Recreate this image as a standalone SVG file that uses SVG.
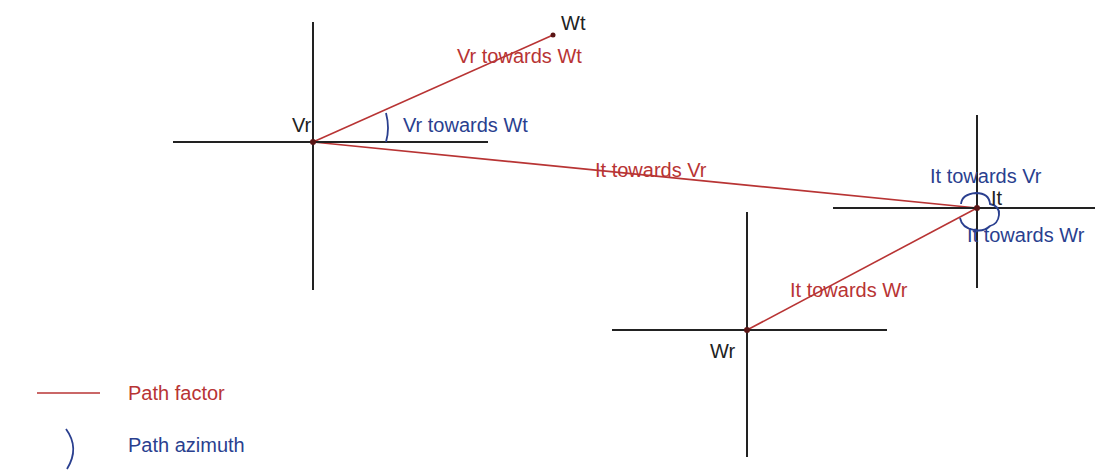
<svg xmlns="http://www.w3.org/2000/svg" width="1096" height="471" viewBox="0 0 1096 471">
<style>
.axis{stroke:#222;stroke-width:2;fill:none}
.path{stroke:#b83434;stroke-width:1.6;fill:none}
.az{stroke:#2a3f8f;stroke-width:1.8;fill:none}
.dot{fill:#5a1515}
text{font-family:"Liberation Sans",Arial,sans-serif;font-size:20px}
.k{fill:#222}
.r{fill:#b83434}
.b{fill:#2a3f8f}
</style>
<rect width="1096" height="471" fill="#fff"/>
<g id="connectors">
<line class="path" x1="313" y1="142" x2="553" y2="35"/>
<line class="path" x1="313" y1="142" x2="977" y2="208"/>
<line class="path" x1="747" y1="330" x2="977" y2="208"/>
</g>
<g id="node-Vr">
<line class="axis" x1="173" y1="142" x2="488" y2="142"/>
<line class="axis" x1="313" y1="22" x2="313" y2="290"/>
<circle class="dot" cx="313" cy="142" r="3"/>
<text class="k" x="292" y="132">Vr</text>
<path class="az" d="M386,113 Q390,128 386,142"/>
<text class="b" x="403" y="132">Vr towards Wt</text>
</g>
<g id="node-Wt">
<circle class="dot" cx="553" cy="35" r="2.5"/>
<text class="k" x="561" y="30">Wt</text>
<text class="r" x="457" y="63">Vr towards Wt</text>
</g>
<g id="node-It">
<line class="axis" x1="833" y1="208" x2="1095" y2="208"/>
<line class="axis" x1="977" y1="115" x2="977" y2="288"/>
<circle class="dot" cx="977" cy="208" r="3"/>
<path class="az" d="M961,204 Q962,194 976,193 Q989,193 990,204 Q1000,206 999,215 Q998,224 990,226 Q984,232 974,230 Q962,228 960,218"/>
<text class="k" x="991" y="205">It</text>
<text class="b" x="930" y="183">It towards Vr</text>
<text class="b" x="967" y="242">It towards Wr</text>
<text class="r" x="595" y="177">It towards Vr</text>
</g>
<g id="node-Wr">
<line class="axis" x1="612" y1="330" x2="887" y2="330"/>
<line class="axis" x1="747" y1="212" x2="747" y2="457"/>
<circle class="dot" cx="747" cy="330" r="3"/>
<text class="k" x="710" y="358">Wr</text>
<text class="r" x="790" y="297">It towards Wr</text>
</g>
<g id="legend">
<line class="path" x1="37" y1="393" x2="100" y2="393"/>
<text class="r" x="128" y="400">Path factor</text>
<path class="az" d="M66,429 Q80,448 67,469"/>
<text class="b" x="128" y="452">Path azimuth</text>
</g>
</svg>
